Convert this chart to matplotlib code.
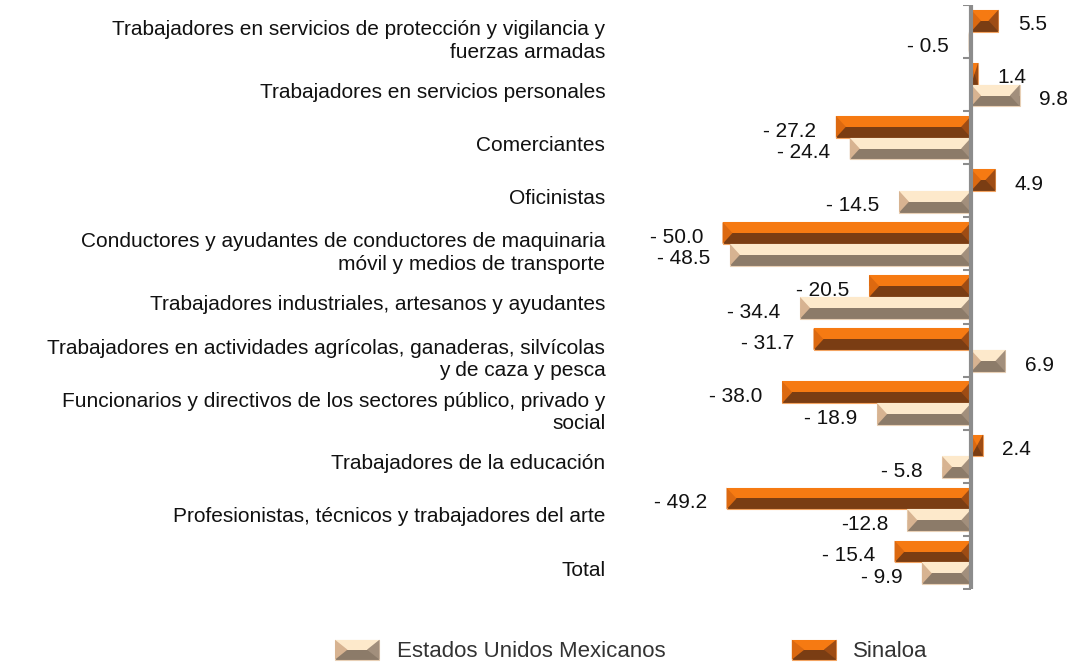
import numpy as np
import matplotlib
matplotlib.use('Agg')
import matplotlib.pyplot as plt
import matplotlib.transforms as mtransforms
from matplotlib.patches import Rectangle, Polygon, Patch

plt.rcParams['font.family'] = ['Liberation Sans', 'DejaVu Sans']

# datos
categorias = ['Trabajadores en servicios de protección y vigilancia y\nfuerzas armadas',
              'Trabajadores en servicios personales',
              'Comerciantes',
              'Oficinistas',
              'Conductores y ayudantes de conductores de maquinaria\nmóvil y medios de transporte',
              'Trabajadores industriales, artesanos y ayudantes',
              'Trabajadores en actividades agrícolas, ganaderas, silvícolas\ny de caza y pesca',
              'Funcionarios y directivos de los sectores público, privado y\nsocial',
              'Trabajadores de la educación',
              'Profesionistas, técnicos y trabajadores del arte',
              'Total']
sinaloa = [5.5, 1.4, -27.2, 4.9, -50.0, -20.5, -31.7, -38.0, 2.4, -49.2, -15.4]
eum = [-0.5, 9.8, -24.4, -14.5, -48.5, -34.4, 6.9, -18.9, -5.8, -12.8, -9.9]
etq_sinaloa = ['5.5', '1.4', '- 27.2', '4.9', '- 50.0', '- 20.5', '- 31.7', '- 38.0', '2.4', '- 49.2', '- 15.4']
etq_eum = ['- 0.5', '9.8', '- 24.4', '- 14.5', '- 48.5', '- 34.4', '6.9', '- 18.9', '- 5.8', '-12.8', '- 9.9']

# colores: arriba, abajo, extremo izq, extremo der, borde
col_sin = ('#F67A12', '#7A3D13', '#DC6910', '#9E4C14', '#F3A462')
col_eum = ('#FDE9CB', '#8C7B69', '#D7B391', '#A28F7C', '#E8D0B6')

N = len(categorias)
ind = np.arange(N)
h = 0.41
bisel = 2.0  # ancho del bisel en unidades del eje x

fig = plt.figure(figsize=(10.77, 6.64), dpi=100)
ax = fig.add_axes([640/1077, 1 - 589/664, 437/1077, 584/664])


def barra_bisel(y, vals, col):
    arriba, abajo, izq, der, borde = col
    barras = ax.barh(y, vals, h, color=abajo, edgecolor=borde, linewidth=0.8, zorder=2)
    ax.barh(y - h/4, vals, h/2, color=arriba, linewidth=0, zorder=3)
    for r in barras:
        x0, x1 = sorted([r.get_x(), r.get_x() + r.get_width()])
        y0, hh = r.get_y(), r.get_height()
        b = min(bisel, (x1 - x0) / 2)
        ax.add_patch(Polygon([(x0, y0), (x0, y0 + hh), (x0 + b, y0 + hh/2)],
                             closed=True, fc=izq, lw=0, zorder=3))
        ax.add_patch(Polygon([(x1, y0), (x1, y0 + hh), (x1 - b, y0 + hh/2)],
                             closed=True, fc=der, lw=0, zorder=3))


barra_bisel(ind - h/2, sinaloa, col_sin)
barra_bisel(ind + h/2, eum, col_eum)

for y, v, t in zip(ind - h/2, sinaloa, etq_sinaloa):
    ax.annotate(t, (v, y), xytext=(14 if v > 0 else -14, -3), textcoords='offset points',
                ha='left' if v > 0 else 'right', va='center', fontsize=15, color='#111111')
for y, v, t in zip(ind + h/2, eum, etq_eum):
    ax.annotate(t, (v, y), xytext=(14 if v > 0 else -14, -3), textcoords='offset points',
                ha='left' if v > 0 else 'right', va='center', fontsize=15, color='#111111')

# eje cero con marcas
ax.axvline(0, color='#8C8C8C', lw=3, zorder=4)
ax.plot(np.zeros(N + 1), np.arange(N + 1) - 0.5, ls='none', marker=0, ms=6,
        mew=1.5, color='#8C8C8C', zorder=4)

ax.set_xlim(-66.6, 21.3)
ax.set_ylim(N - 0.5, -0.5)
ax.set_yticks(ind)
ax.set_yticklabels(categorias, fontsize=15, color='#111111', linespacing=1.25)
ax.tick_params(axis='y', length=0, pad=25)
desplaza = mtransforms.ScaledTranslation(0, -4/72, fig.dpi_scale_trans)
for lbl in ax.get_yticklabels():
    lbl.set_transform(lbl.get_transform() + desplaza)
ax.set_xticks([])
for s in ax.spines.values():
    s.set_visible(False)


class ManejadorBisel:
    def __init__(self, col):
        self.col = col

    def legend_artist(self, legend, orig_handle, fontsize, handlebox):
        arriba, abajo, izq, der, borde = self.col
        x0, y0 = -handlebox.xdescent, -handlebox.ydescent
        w, hh = handlebox.width, handlebox.height
        b = 0.28 * w
        tr = handlebox.get_transform()
        piezas = [Rectangle((x0, y0), w, hh, fc=abajo, ec=borde, lw=0.8, transform=tr),
                  Rectangle((x0, y0 + hh/2), w, hh/2, fc=arriba, lw=0, transform=tr),
                  Polygon([(x0, y0), (x0, y0 + hh), (x0 + b, y0 + hh/2)], fc=izq, lw=0, transform=tr),
                  Polygon([(x0 + w, y0), (x0 + w, y0 + hh), (x0 + w - b, y0 + hh/2)], fc=der, lw=0,
                          transform=tr)]
        for p in piezas:
            handlebox.add_artist(p)
        return piezas[1]


p_eum = Patch(label='Estados Unidos Mexicanos')
p_sin = Patch(label='Sinaloa')
fig.legend([p_eum, p_sin], ['Estados Unidos Mexicanos', 'Sinaloa'],
           handler_map={p_eum: ManejadorBisel(col_eum), p_sin: ManejadorBisel(col_sin)},
           loc='center left', bbox_to_anchor=(335/1077, 1 - 651/664), ncol=2, frameon=False,
           fontsize=16, labelcolor='#333333', borderpad=0, borderaxespad=0,
           handlelength=2.0, handleheight=1.0, handletextpad=0.77, columnspacing=5.7)

plt.savefig('out.png', dpi=100)
